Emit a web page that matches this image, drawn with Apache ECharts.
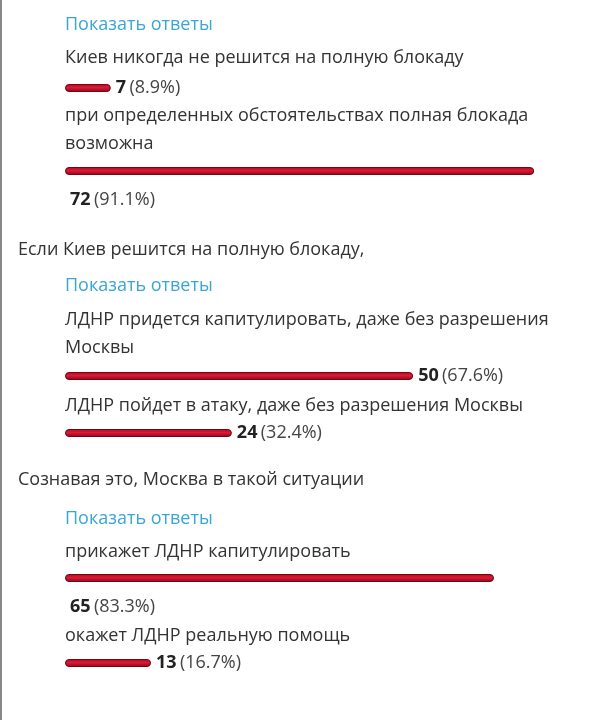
<!DOCTYPE html>
<html>
<head>
<meta charset="utf-8">
<script src="https://cdn.jsdelivr.net/npm/echarts@6/dist/echarts.min.js"></script>
<style>
  html, body { margin: 0; padding: 0; background: #fff; }
  #main { width: 605px; height: 720px; }
</style>
</head>
<body>
<div id="main"></div>
<script>
// ответы опроса
var questions = ['', 'Если Киев решится на полную блокаду,', 'Сознавая это, Москва в такой ситуации'];
var answers1 = ['Киев никогда не решится на полную блокаду', 'при определенных обстоятельствах полная блокада\nвозможна'];
var counts1 = [7, 72];
var answers2 = ['ЛДНР придется капитулировать, даже без разрешения\nМосквы', 'ЛДНР пойдет в атаку, даже без разрешения Москвы'];
var counts2 = [50, 24];
var answers3 = ['прикажет ЛДНР капитулировать', 'окажет ЛДНР реальную помощь'];
var counts3 = [65, 13];
var linkText = 'Показать ответы';

// раскладка по вертикали (центр первой строки)
var layout = [
  { q: null, link: 25, ans: [58, 116], bar: [88, 171], below: [false, true] },
  { q: 250, link: 286, ans: [320, 406], bar: [376, 433], below: [false, false] },
  { q: 480, link: 519, ans: [552, 636], bar: [578, 663], below: [true, false] }
];

var font = '"Open Sans", Lato, sans-serif';
var textColor = '#333';
var LH = 28;
var groups = [
  { answers: answers1, counts: counts1 },
  { answers: answers2, counts: counts2 },
  { answers: answers3, counts: counts3 }
];

var graphic = [{
  type: 'line', shape: { x1: 1, y1: 0, x2: 1, y2: 720 },
  style: { stroke: '#888', lineWidth: 2 }
}];
var grids = [], xAxes = [], yAxes = [], series = [];

function pct(c, arr) {
  var total = arr.reduce(function (a, b) { return a + b; }, 0);
  return Math.round(c / total * 1000) / 10;
}

function txt(x, y, s, color) {
  return { type: 'text', style: { x: x, y: y - LH / 2, text: s, fill: color,
    font: '18px ' + font, textVerticalAlign: 'top', lineHeight: LH } };
}

groups.forEach(function (g, gi) {
  var lay = layout[gi];
  if (questions[gi]) graphic.push(txt(18, lay.q, questions[gi], textColor));
  graphic.push(txt(65, lay.link, linkText, '#3aa6d6'));
  g.answers.forEach(function (a, ai) {
    graphic.push(txt(65, lay.ans[ai], a, textColor));
    var idx = grids.length;
    var p = pct(g.counts[ai], g.counts);
    grids.push({ left: 65, width: 515, top: lay.bar[ai] - 10, height: 20 });
    xAxes.push({ type: 'value', gridIndex: idx, min: 0, max: 100, show: false });
    yAxes.push({ type: 'category', gridIndex: idx, data: [a], show: false });
    series.push({
      type: 'bar', xAxisIndex: idx, yAxisIndex: idx, barWidth: 8,
      data: [{ value: p, count: g.counts[ai] }],
      itemStyle: {
        borderRadius: 4, borderColor: '#6e0812', borderWidth: 1,
        color: new echarts.graphic.LinearGradient(0, 0, 0, 1, [
          { offset: 0, color: '#b3071f' },
          { offset: 0.45, color: '#dc1a36' },
          { offset: 1, color: '#8c0515' }
        ])
      },
      label: {
        show: true,
        position: lay.below[ai] ? [5, 33] : 'right',
        distance: 5,
        verticalAlign: 'middle',
        formatter: function (d) { return '{n|' + d.data.count + '} {p|(' + d.value + '%)}'; },
        rich: {
          n: { fontFamily: font, fontSize: 18, fontWeight: 'bold', color: '#222' },
          p: { fontFamily: font, fontSize: 18, color: '#444' }
        }
      },
      silent: true, animation: false
    });
  });
});

var chart = echarts.init(document.getElementById('main'));
chart.setOption({
  animation: false,
  grid: grids, xAxis: xAxes, yAxis: yAxes, series: series,
  graphic: graphic
});
</script>
</body>
</html>
